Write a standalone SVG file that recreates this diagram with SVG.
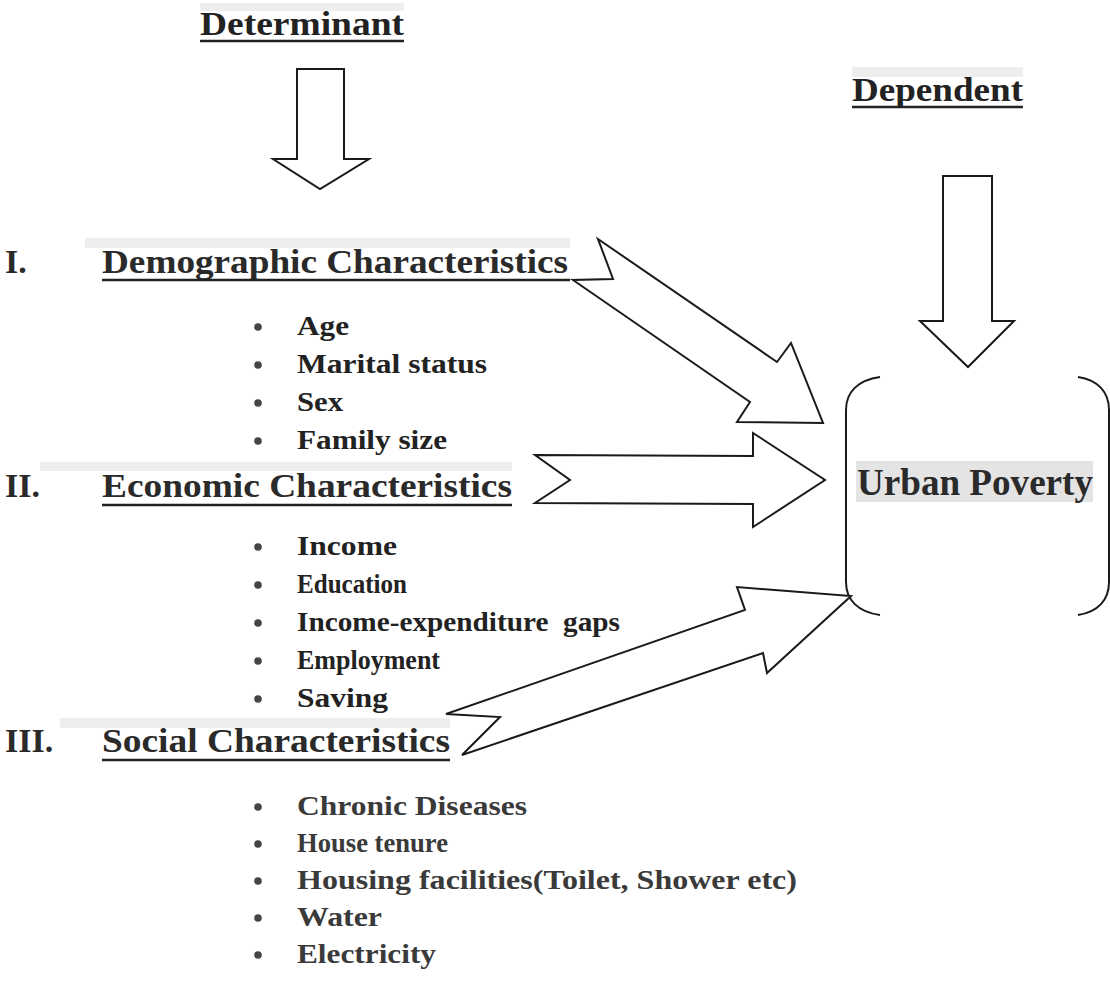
<svg xmlns="http://www.w3.org/2000/svg" width="1110" height="982" viewBox="0 0 1110 982">
<style>
.bg{fill:#ffffff}
.hl{fill:#e2e2e2;opacity:0.6}
.title{font-family:"Liberation Serif","Times New Roman",serif;font-weight:bold;font-size:33px;fill:#222}
.head{font-family:"Liberation Serif","Times New Roman",serif;font-weight:bold;font-size:34px;fill:#2a2a2a}
.item{font-family:"Liberation Serif","Times New Roman",serif;font-weight:bold;font-size:28px;fill:#222}
.item2{font-family:"Liberation Serif","Times New Roman",serif;font-weight:bold;font-size:28px;fill:#3a3a3a}
.ul{stroke:#222;stroke-width:2.5}
.bul{fill:#444}
.arr{fill:#ffffff;stroke:#1a1a1a;stroke-width:2;stroke-linejoin:miter}
.brace{fill:none;stroke:#1a1a1a;stroke-width:2}
.big{font-family:"Liberation Serif","Times New Roman",serif;font-weight:bold;font-size:38px;fill:#2a2a2a}
</style>
<rect class="bg" x="0" y="0" width="1110" height="982"/>

<g id="determinant">
<rect class="hl" x="200" y="3" width="204" height="8"/>
<text class="title" x="200" y="35" textLength="204" lengthAdjust="spacingAndGlyphs">Determinant</text>
<line class="ul" x1="200" y1="41" x2="404" y2="41"/>
</g>

<g id="dependent">
<rect class="hl" x="852" y="67" width="171" height="10"/>
<text class="title" x="852" y="101" textLength="171" lengthAdjust="spacingAndGlyphs">Dependent</text>
<line class="ul" x1="852" y1="107" x2="1023" y2="107"/>
</g>

<g id="demographic">
<rect class="hl" x="85" y="238" width="485" height="10"/>
<text class="head" x="5" y="273">I.</text>
<text class="head" x="102" y="273" textLength="466" lengthAdjust="spacingAndGlyphs">Demographic Characteristics</text>
<line class="ul" x1="102" y1="280" x2="570" y2="280"/>
<circle class="bul" cx="258" cy="327" r="3.8"/>
<text class="item" x="297" y="335" textLength="52" lengthAdjust="spacingAndGlyphs">Age</text>
<circle class="bul" cx="258" cy="365" r="3.8"/>
<text class="item" x="297" y="373" textLength="190" lengthAdjust="spacingAndGlyphs">Marital status</text>
<circle class="bul" cx="258" cy="403" r="3.8"/>
<text class="item" x="297" y="411" textLength="46" lengthAdjust="spacingAndGlyphs">Sex</text>
<circle class="bul" cx="258" cy="441" r="3.8"/>
<text class="item" x="297" y="449" textLength="150" lengthAdjust="spacingAndGlyphs">Family size</text>
</g>

<g id="economic">
<rect class="hl" x="40" y="462" width="472" height="9"/>
<text class="head" x="5" y="497">II.</text>
<text class="head" x="102" y="497" textLength="410" lengthAdjust="spacingAndGlyphs">Economic Characteristics</text>
<line class="ul" x1="102" y1="505" x2="512" y2="505"/>
<circle class="bul" cx="258" cy="547" r="3.8"/>
<text class="item" x="297" y="555" textLength="100" lengthAdjust="spacingAndGlyphs">Income</text>
<circle class="bul" cx="258" cy="585" r="3.8"/>
<text class="item" x="297" y="593" textLength="110" lengthAdjust="spacingAndGlyphs">Education</text>
<circle class="bul" cx="258" cy="623" r="3.8"/>
<text class="item" x="297" y="631" textLength="323" lengthAdjust="spacingAndGlyphs" xml:space="preserve">Income-expenditure  gaps</text>
<circle class="bul" cx="258" cy="661" r="3.8"/>
<text class="item" x="297" y="669" textLength="143" lengthAdjust="spacingAndGlyphs">Employment</text>
<circle class="bul" cx="258" cy="699" r="3.8"/>
<text class="item" x="297" y="707" textLength="91" lengthAdjust="spacingAndGlyphs">Saving</text>
</g>

<g id="social">
<rect class="hl" x="60" y="718" width="390" height="10"/>
<text class="head" x="5" y="752">III.</text>
<text class="head" x="102" y="752" textLength="348" lengthAdjust="spacingAndGlyphs">Social Characteristics</text>
<line class="ul" x1="102" y1="760" x2="450" y2="760"/>
<circle class="bul" cx="258" cy="807" r="3.8"/>
<text class="item2" x="297" y="815" textLength="230" lengthAdjust="spacingAndGlyphs">Chronic Diseases</text>
<circle class="bul" cx="258" cy="844" r="3.8"/>
<text class="item2" x="297" y="852" textLength="151" lengthAdjust="spacingAndGlyphs">House tenure</text>
<circle class="bul" cx="258" cy="881" r="3.8"/>
<text class="item2" x="297" y="889" textLength="500" lengthAdjust="spacingAndGlyphs">Housing facilities(Toilet, Shower etc)</text>
<circle class="bul" cx="258" cy="918" r="3.8"/>
<text class="item2" x="297" y="926" textLength="85" lengthAdjust="spacingAndGlyphs">Water</text>
<circle class="bul" cx="258" cy="955" r="3.8"/>
<text class="item2" x="297" y="963" textLength="139" lengthAdjust="spacingAndGlyphs">Electricity</text>
</g>

<g id="urban-poverty">
<rect fill="#e4e4e4" x="856" y="461" width="237" height="41"/>
<text class="big" x="857" y="495" textLength="236" lengthAdjust="spacingAndGlyphs">Urban Poverty</text>
<path class="brace" d="M880,377 C858,380 846,392 846,410 L846,582 C846,600 858,612 880,615"/>
<path class="brace" d="M1078,377 C1098,380 1109,392 1109,410 L1109,582 C1109,600 1098,612 1078,615"/>
</g>

<g id="connectors">
<polygon class="arr" points="297,69 344,69 344,159 369,159 320,189 273,159 297,159"/>
<polygon class="arr" points="943,176 992,176 992,321 1014,321 968,367 920,321 943,321"/>
<polygon class="arr" points="598,239 777,362 791,343 823,423 737,422 750,402 573,280 613,279"/>
<polygon class="arr" points="535,455 753,456 753,433 825,480 753,527 753,504 535,503 570,480"/>
<polygon class="arr" points="446,714 745,610 737,587 851,596 767,673 763,653 462,755 500,717"/>
</g>
</svg>
